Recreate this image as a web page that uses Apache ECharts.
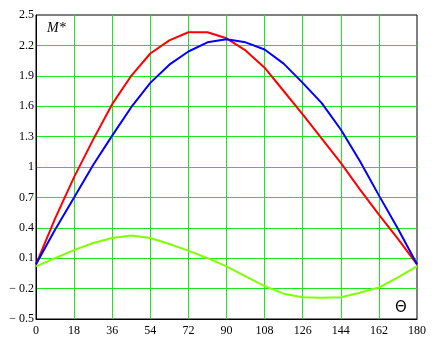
<!DOCTYPE html>
<html>
<head>
<meta charset="utf-8">
<script src="https://cdn.jsdelivr.net/npm/echarts@6/dist/echarts.min.js"></script>
<style>html,body{margin:0;padding:0;background:#fff}#c{width:446px;height:364px}</style>
</head>
<body>
<div id="c"></div>
<script>
const theta = [0,9,18,27,36,45,54,63,72,81,90,99,108,117,126,135,144,153,162,171,180];
const redM = [0.04,0.49,0.90,1.27,1.62,1.90,2.12,2.25,2.33,2.33,2.27,2.15,1.98,1.75,1.52,1.28,1.04,0.78,0.53,0.29,0.04];
const blueM = [0.04,0.38,0.70,1.02,1.31,1.59,1.83,2.01,2.14,2.23,2.26,2.23,2.16,2.02,1.83,1.63,1.37,1.06,0.72,0.39,0.04];
const greenM = [0.02,0.10,0.18,0.25,0.30,0.325,0.30,0.24,0.175,0.10,0.02,-0.08,-0.175,-0.25,-0.285,-0.29,-0.285,-0.24,-0.19,-0.09,0.02];

const pair = arr => theta.map((t,i)=>[t,arr[i]]);
const font = '"Liberation Serif","Times New Roman",serif';
const gridColor = '#1ee61e';
const chart = echarts.init(document.getElementById('c'));
chart.setOption({
  animation:false,
  backgroundColor:'#fff',
  grid:{left:36,top:15,right:29,bottom:45,show:true,borderColor:'#000',borderWidth:1,containLabel:false},
  xAxis:{type:'value',min:0,max:180,interval:18,
    axisLine:{show:true,onZero:false,lineStyle:{color:'#000',width:1}},
    axisTick:{show:false},
    splitLine:{show:true,showMinLine:false,showMaxLine:false,lineStyle:{color:gridColor,width:1}},
    axisLabel:{color:'#000',fontFamily:font,fontSize:12,margin:6}},
  yAxis:{type:'value',min:-0.5,max:2.5,interval:0.3,
    axisLine:{show:true,onZero:false,lineStyle:{color:'#000',width:1}},
    axisTick:{show:false},
    splitLine:{show:true,showMinLine:false,showMaxLine:false,lineStyle:{color:gridColor,width:1}},
    axisLabel:{color:'#000',fontFamily:font,fontSize:12,margin:2,
      formatter:v=>{const r=Math.round(v*10)/10; return r<0?'\u2212 '+Math.abs(r):String(r);}}},
  series:[
    {type:'line',data:pair(redM),showSymbol:false,lineStyle:{color:'#ff0000',width:2},itemStyle:{color:'#ff0000'}},
    {type:'line',data:pair(blueM),showSymbol:false,lineStyle:{color:'#0000ff',width:2},itemStyle:{color:'#0000ff'}},
    {type:'line',data:pair(greenM),showSymbol:false,lineStyle:{color:'#80ff00',width:2},itemStyle:{color:'#80ff00'}}
  ],
  graphic:[
    {type:'text',left:47,top:21,style:{text:'M*',font:'italic 14px '+font,fill:'#000'}},
    {type:'text',left:395,top:301,style:{text:'\u0398',font:'15px "DejaVu Sans",sans-serif',fill:'#000'}}
  ]
});
</script>
</body>
</html>
